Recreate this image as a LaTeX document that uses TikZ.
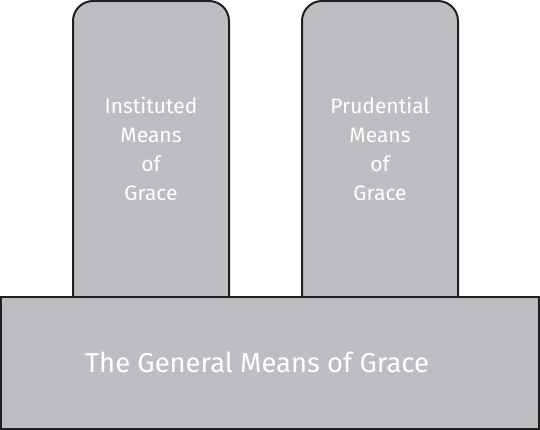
\documentclass[tikz,border=0pt]{standalone}
\usepackage{fontspec}
\setmainfont{Fira Sans}
\usepackage{tikz}
\usetikzlibrary{positioning}
\definecolor{mgray}{RGB}{189, 190, 194}
\definecolor{mdark}{RGB}{35, 31, 32}
\tikzset{block/.style = {draw=mdark, fill=mgray, line width=2pt}}
\tikzset{label/.style = {text=white, align=center, inner sep=0}}

\begin{document}
\begin{tikzpicture}[x=1pt, y=1pt]
    \useasboundingbox (0, 0) rectangle (540, 430);

    \foreach \x in {73, 302} {
      \draw [block, rounded corners=20pt] (\x, 133) -- (\x, 429) -- (\x + 156, 429) -- (\x + 156, 133);
    }
    \draw [block] (1, 133) rectangle (539, 1);

    \node [label, font=\fontsize{21}{29}\selectfont] (inst) at (151, 281) {Instituted\\Means\\of\\Grace};
    \node [label, font=\fontsize{21}{29}\selectfont] (prud) at (380, 281) {Prudential\\Means\\of\\Grace};
    \node [label, font=\fontsize{27.4}{30}\selectfont] (gen) at (257, 68) {The General Means of Grace};
  \end{tikzpicture}
\end{document}
